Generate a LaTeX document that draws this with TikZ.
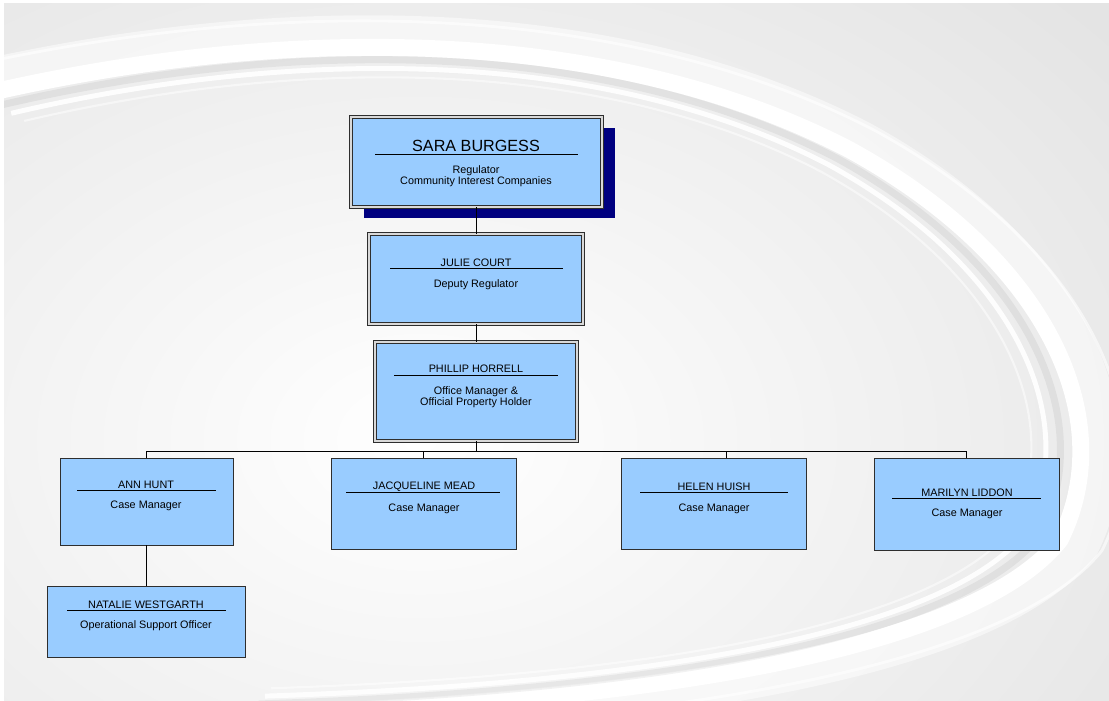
\documentclass[tikz,border=0pt]{standalone}
\usepackage{fontspec}
\setmainfont{Liberation Sans}
\usetikzlibrary{fit,shadows}

\definecolor{postblue}{HTML}{99CCFF}
\definecolor{postline}{HTML}{2E2E2E}
\definecolor{shadownavy}{HTML}{000080}
\definecolor{bggray}{HTML}{E4E4E4}

\tikzset{
	post/.style={draw=postline, fill=postblue, line width=0.6pt, inner sep=0pt},
	toppost/.style={post, line width=0.45pt, double=gray!30, double distance=1.3pt},
	pname/.style={font=\fontsize{7.7}{8}\selectfont, inner sep=0pt},
	prole/.style={font=\fontsize{7.7}{8}\selectfont, align=center, inner sep=0pt},
	uline/.style={line width=0.6pt, black},
	link/.style={line width=0.6pt, black},
	swooshline/.style={insert path={(-20,95) .. controls (300,20) and (620,30) .. (850,150)
		.. controls (1050,260) and (1120,420) .. (1060,540)
		.. controls (980,640) and (700,700) .. (250,715)}}
}

\begin{document}
\begin{tikzpicture}[x=0.025cm, y=-0.025cm]
	\useasboundingbox (0,0) rectangle (1109,700);
	
	%%% Фон
	\fill[white] (0,0) rectangle (1109,700);
	\begin{scope}
		\clip (4,3) rectangle (1109,700);
		\fill[bggray] (4,3) rectangle (1109,700);
		\shade[inner color=white, outer color=bggray] (420,440) ellipse [x radius=900, y radius=640];
		
		% Полосы
		\draw[white, opacity=0.5, line width=28pt, scale around={1.035:(500,400)}, swooshline];
		\draw[white, opacity=0.6, line width=2pt, scale around={1.075:(500,400)}, swooshline];
		\draw[white, line width=12pt, scale around={1.0:(500,400)}, swooshline];
		\draw[black, opacity=0.05, line width=5pt, scale around={0.965:(500,400)}, swooshline];
		\draw[white, opacity=0.9, line width=3.5pt, scale around={0.94:(500,400)}, swooshline];
		\draw[white, opacity=0.5, line width=1.5pt, scale around={0.915:(500,400)}, swooshline];
	\end{scope}
	
	%%% Блоки
	
	% Руководство
	\node[toppost, fit={(351,117) (602,207)},
		drop shadow={shadow xshift=9pt, shadow yshift=-8pt, fill=shadownavy, opacity=1}] (sara) {};
	\node[toppost, fit={(369,234) (583,324)}] (julie) {};
	\node[toppost, fit={(375,342) (577,441)}] (phillip) {};
	
	% Сотрудники
	\node[post, fit={(60,458) (233,545)}] (ann) {};
	\node[post, fit={(331,458) (516,549)}] (jacqueline) {};
	\node[post, fit={(621,458) (806,549)}] (helen) {};
	\node[post, fit={(874,458) (1059,550)}] (marilyn) {};
	\node[post, fit={(47,586) (245,657)}] (natalie) {};
	
	%%% Связи
	\coordinate (bus) at (476,451);
	\coordinate (helenin) at (726,458);
	
	\draw[link] (julie.north) -- (julie.north |- sara.south);
	\draw[link] (julie.south) -- (phillip.north);
	\draw[link] (phillip.south) -- (bus);
	\draw[link] (ann.north) |- (bus) -| (marilyn.north);
	\draw[link] (jacqueline.north) -- (jacqueline.north |- bus);
	\draw[link] (helenin) -- (helenin |- bus);
	\draw[link] (ann.south) -- (ann.south |- natalie.north);
	
	%%% Подписи
	
	% SARA BURGESS
	\node[pname, font=\fontsize{11.5}{12}\selectfont] (saraname) at (476,146) {SARA BURGESS};
	\draw[uline] (375,154) -- (578,154);
	\node[prole] (sararole) at (476,176) {Regulator\\Community Interest Companies};
	
	% JULIE COURT
	\node[pname] (juliename) at (476,262.5) {JULIE COURT};
	\draw[uline] (390,268.5) -- (563,268.5);
	\node[prole] (julierole) at (476,284.5) {Deputy Regulator};
	
	% PHILLIP HORRELL
	\node[pname] (phillipname) at (476,368.5) {PHILLIP HORRELL};
	\draw[uline] (394,375) -- (558,375);
	\node[prole] (philliprole) at (476,397) {Office Manager \&\\Official Property Holder};
	
	% ANN HUNT
	\node[pname] (annname) at (146,484.5) {ANN HUNT};
	\draw[uline] (77,490) -- (216,490);
	\node[prole] (annrole) at (146,506) {Case Manager};
	
	% JACQUELINE MEAD
	\node[pname] (jacquelinename) at (424,486.5) {JACQUELINE MEAD};
	\draw[uline] (346,492) -- (500,492);
	\node[prole] (jacquelinerole) at (424,508.5) {Case Manager};
	
	% HELEN HUISH
	\node[pname] (helenname) at (714,486.5) {HELEN HUISH};
	\draw[uline] (640,492) -- (788,492);
	\node[prole] (helenrole) at (714,508.5) {Case Manager};
	
	% MARILYN LIDDON
	\node[pname] (marilynname) at (967,492.5) {MARILYN LIDDON};
	\draw[uline] (892,498) -- (1041,498);
	\node[prole] (marilynrole) at (967,513.5) {Case Manager};
	
	% NATALIE WESTGARTH
	\node[pname] (nataliename) at (146,604.5) {NATALIE WESTGARTH};
	\draw[uline] (67,610) -- (226,610);
	\node[prole] (natalierole) at (146,625.5) {Operational Support Officer};
\end{tikzpicture}
\end{document}
